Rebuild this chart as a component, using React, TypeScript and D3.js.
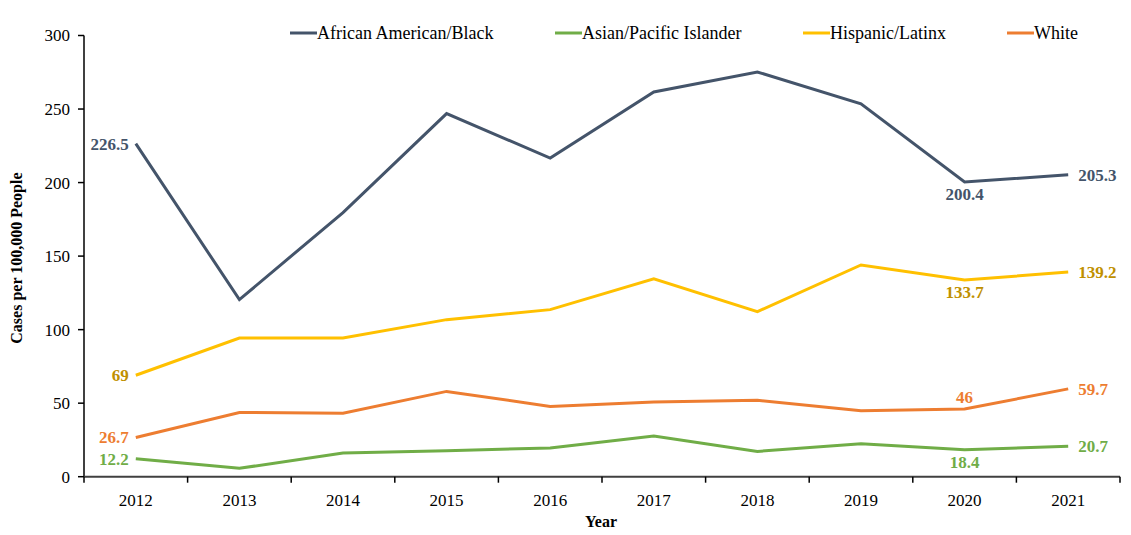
import React, { useEffect, useRef } from 'react';
import * as d3 from 'd3';

const years = ['2012', '2013', '2014', '2015', '2016', '2017', '2018', '2019', '2020', '2021'];
const black = [226.5, 120.4, 179.6, 246.9, 216.7, 261.6, 275.2, 253.5, 200.4, 205.3];
const asian = [12.2, 5.7, 16.1, 17.7, 19.5, 27.7, 17.2, 22.4, 18.4, 20.7];
const hispanic = [69, 94.3, 94.3, 106.8, 113.6, 134.5, 112.2, 144, 133.7, 139.2];
const white = [26.7, 43.7, 43.1, 58.0, 47.8, 50.8, 51.9, 44.9, 46, 59.7];
const yTicks = [0, 50, 100, 150, 200, 250, 300];

const series = [
  { name: 'African American/Black', values: black, color: '#44546A', labelColor: '#44546A', pos2020: 'below' },
  { name: 'Asian/Pacific Islander', values: asian, color: '#70AD47', labelColor: '#70AD47', pos2020: 'below' },
  { name: 'Hispanic/Latinx', values: hispanic, color: '#FFC000', labelColor: '#BF9000', pos2020: 'below' },
  { name: 'White', values: white, color: '#ED7D31', labelColor: '#ED7D31', pos2020: 'above' },
];

const W = 1131;
const H = 535;
const font = '"Liberation Serif", "Times New Roman", serif';

const App = () => {
  const svgRef = useRef<SVGSVGElement>(null);

  useEffect(() => {
    const svg = d3.select(svgRef.current);
    svg.selectAll('*').remove();

    const margin = { top: 35.5, right: 11, bottom: 58.3, left: 84 };
    const innerWidth = W - margin.left - margin.right;
    const innerHeight = H - margin.top - margin.bottom;

    const x = d3.scaleBand().domain(years).range([0, innerWidth]);
    const y = d3.scaleLinear().domain([0, 300]).range([innerHeight, 0]);
    const cx = (yr: string) => (x(yr) as number) + x.bandwidth() / 2;

    const g = svg.append('g').attr('transform', `translate(${margin.left},${margin.top})`);

    // y axis
    g.append('line').attr('x1', 0).attr('x2', 0).attr('y1', 0).attr('y2', innerHeight)
      .attr('stroke', '#000').attr('stroke-width', 1.5);
    yTicks.forEach(t => {
      g.append('line').attr('x1', -6).attr('x2', 0).attr('y1', y(t)).attr('y2', y(t))
        .attr('stroke', '#000').attr('stroke-width', 1.5);
      g.append('text').attr('x', -14).attr('y', y(t)).attr('dy', '0.35em')
        .attr('text-anchor', 'end').attr('font-family', font).attr('font-size', 17)
        .text(t);
    });

    // x axis
    g.append('line').attr('x1', 0).attr('x2', innerWidth).attr('y1', innerHeight).attr('y2', innerHeight)
      .attr('stroke', '#404040').attr('stroke-width', 2);
    years.forEach((yr, i) => {
      const edge = x(yr) as number;
      g.append('line').attr('x1', edge).attr('x2', edge).attr('y1', innerHeight).attr('y2', innerHeight + 6)
        .attr('stroke', '#000').attr('stroke-width', 1.5);
      if (i === years.length - 1) {
        g.append('line').attr('x1', edge + x.bandwidth()).attr('x2', edge + x.bandwidth())
          .attr('y1', innerHeight).attr('y2', innerHeight + 6)
          .attr('stroke', '#000').attr('stroke-width', 1.5);
      }
      g.append('text').attr('x', cx(yr)).attr('y', innerHeight + 29)
        .attr('text-anchor', 'middle').attr('font-family', font).attr('font-size', 17)
        .text(yr);
    });

    // axis titles
    g.append('text').attr('x', cx('2016') + x.bandwidth() / 2 - 1).attr('y', innerHeight + 50)
      .attr('text-anchor', 'middle').attr('font-family', font).attr('font-size', 16)
      .attr('font-weight', 'bold').text('Year');
    g.append('text')
      .attr('transform', `translate(${-margin.left + 22},${innerHeight / 2 + 2}) rotate(-90)`)
      .attr('text-anchor', 'middle').attr('font-family', font).attr('font-size', 16)
      .attr('font-weight', 'bold').text('Cases per 100,000 People');

    // lines
    const line = d3.line<number>()
      .x((_, i) => cx(years[i]))
      .y(d => y(d));

    series.forEach(s => {
      g.append('path').datum(s.values).attr('d', line)
        .attr('fill', 'none').attr('stroke', s.color).attr('stroke-width', 3)
        .attr('stroke-linejoin', 'miter');

      const lab = (i: number, dx: number, dy: number, anchor: string) => {
        g.append('text')
          .attr('x', cx(years[i]) + dx).attr('y', y(s.values[i]) + dy).attr('dy', '0.35em')
          .attr('text-anchor', anchor).attr('font-family', font).attr('font-size', 17)
          .attr('font-weight', 'bold').attr('fill', s.labelColor)
          .text(s.values[i]);
      };
      lab(0, -7, 0, 'end');
      lab(8, 0, s.pos2020 === 'below' ? 12 : -12, 'middle');
      lab(9, 10, 0, 'start');
    });

    // legend
    const legendX = [290, 555, 803, 1007];
    series.forEach((s, i) => {
      const lg = svg.append('g').attr('transform', `translate(${legendX[i]},33)`);
      lg.append('line').attr('x1', 0).attr('x2', 27).attr('y1', 0).attr('y2', 0)
        .attr('stroke', s.color).attr('stroke-width', 3);
      lg.append('text').attr('x', 27).attr('y', 0).attr('dy', '0.35em')
        .attr('font-family', font).attr('font-size', 18).text(s.name);
    });
  }, []);

  return (
    <svg ref={svgRef} width={W} height={H}
      style={{ position: 'absolute', left: 0, top: 0, background: '#fff' }} />
  );
};

export default App;
